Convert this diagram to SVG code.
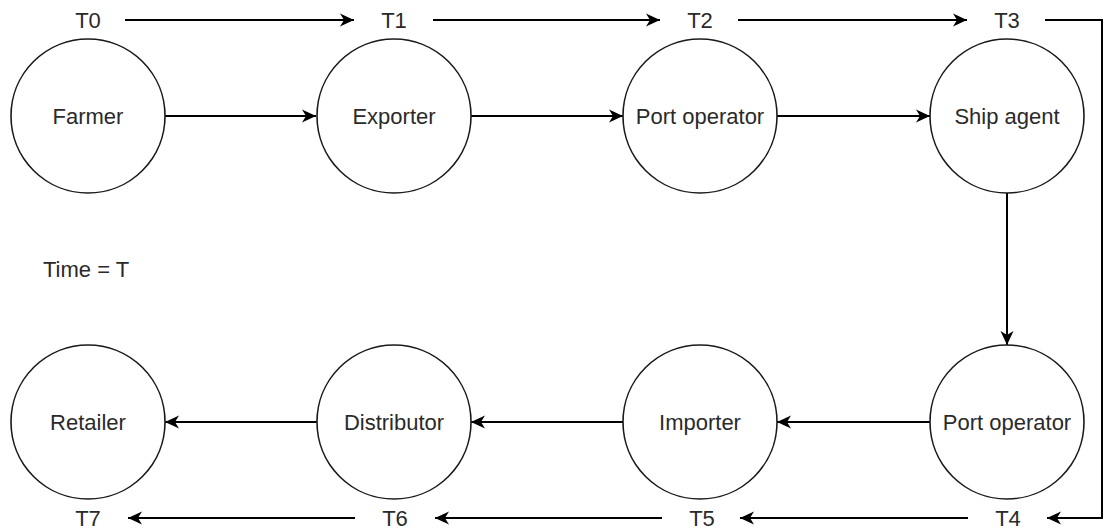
<svg xmlns="http://www.w3.org/2000/svg" width="1104" height="532" viewBox="0 0 1104 532">
  <style>
    .node circle { fill: #ffffff; stroke: #1a1a1a; stroke-width: 1.6; }
    .label { font-family: "Liberation Sans", Arial, sans-serif; font-size: 22px; fill: #2a2a2a; text-anchor: middle; }
    .note { font-family: "Liberation Sans", Arial, sans-serif; font-size: 22px; fill: #2a2a2a; }
    .edge { fill: none; stroke: #000000; stroke-width: 2; marker-end: url(#arrow); }
  </style>
  <defs>
    <marker id="arrow" markerUnits="userSpaceOnUse" markerWidth="16" markerHeight="16" viewBox="0 -8 16 16" refX="14" refY="0" orient="auto">
      <path d="M0,-6.5 L14,0 L0,6.5 L4,0 Z" fill="#000000"/>
    </marker>
  </defs>
  <rect width="1104" height="532" fill="#ffffff"/>

  <!-- connectors -->
  <g id="connectors">
    <!-- timeline along the top -->
    <line class="edge" x1="125" y1="20" x2="354" y2="20"/>
    <line class="edge" x1="433" y1="20" x2="660" y2="20"/>
    <line class="edge" x1="738" y1="20" x2="967" y2="20"/>
    <polyline class="edge" points="1045,20 1102,20 1102,518 1047,518"/>
    <!-- timeline along the bottom -->
    <line class="edge" x1="968" y1="518" x2="740" y2="518"/>
    <line class="edge" x1="662" y1="518" x2="435" y2="518"/>
    <line class="edge" x1="355" y1="518" x2="128" y2="518"/>
    <!-- flow between actors -->
    <line class="edge" x1="165" y1="116" x2="316" y2="116"/>
    <line class="edge" x1="471" y1="116" x2="623" y2="116"/>
    <line class="edge" x1="777" y1="116" x2="930" y2="116"/>
    <line class="edge" x1="1007" y1="193" x2="1007" y2="345"/>
    <line class="edge" x1="930" y1="422" x2="777" y2="422"/>
    <line class="edge" x1="623" y1="422" x2="471" y2="422"/>
    <line class="edge" x1="317" y1="422" x2="165" y2="422"/>
  </g>

  <!-- actors, top row -->
  <g id="farmer" class="node">
    <circle cx="88" cy="116" r="77"/>
    <text class="label" x="88" y="124">Farmer</text>
  </g>
  <g id="exporter" class="node">
    <circle cx="394" cy="116" r="77"/>
    <text class="label" x="394" y="124">Exporter</text>
  </g>
  <g id="port-operator-origin" class="node">
    <circle cx="700" cy="116" r="77"/>
    <text class="label" x="700" y="124">Port operator</text>
  </g>
  <g id="ship-agent" class="node">
    <circle cx="1007" cy="116" r="77"/>
    <text class="label" x="1007" y="124">Ship agent</text>
  </g>

  <!-- actors, bottom row -->
  <g id="port-operator-destination" class="node">
    <circle cx="1007" cy="422" r="77"/>
    <text class="label" x="1007" y="430">Port operator</text>
  </g>
  <g id="importer" class="node">
    <circle cx="700" cy="422" r="77"/>
    <text class="label" x="700" y="430">Importer</text>
  </g>
  <g id="distributor" class="node">
    <circle cx="394" cy="422" r="77"/>
    <text class="label" x="394" y="430">Distributor</text>
  </g>
  <g id="retailer" class="node">
    <circle cx="88" cy="422" r="77"/>
    <text class="label" x="88" y="430">Retailer</text>
  </g>

  <!-- time markers -->
  <g id="time-labels">
    <text class="label" x="88" y="28">T0</text>
    <text class="label" x="394" y="28">T1</text>
    <text class="label" x="700" y="28">T2</text>
    <text class="label" x="1007" y="28">T3</text>
    <text class="label" x="1008" y="526">T4</text>
    <text class="label" x="702" y="526">T5</text>
    <text class="label" x="395" y="526">T6</text>
    <text class="label" x="88" y="526">T7</text>
    <text class="note" x="43" y="277">Time = T</text>
  </g>
</svg>
